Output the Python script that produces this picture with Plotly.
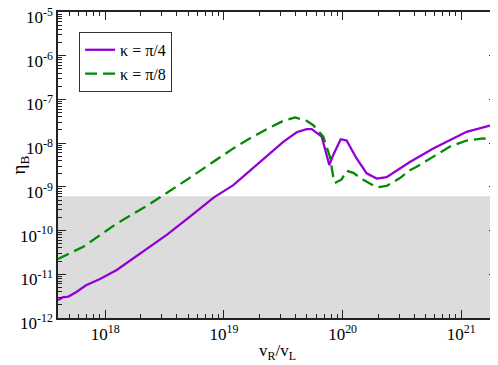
import numpy as np
import plotly.graph_objects as go

# values, as log10(v_R/v_L) and log10(eta_B)
log_x_pi4 = [17.602, 17.64, 17.69, 17.754, 17.838, 17.956, 18.097, 18.293, 18.518,
             18.714, 18.916, 19.079, 19.22, 19.36, 19.50, 19.613, 19.697, 19.74,
             19.824, 19.888, 19.921, 19.984, 20.034, 20.118, 20.203, 20.287, 20.371,
             20.483, 20.567, 20.764, 21.045, 21.24, 21.30]
log_eta_pi4 = [-11.59, -11.53, -11.51, -11.41, -11.25, -11.11, -10.90, -10.52, -10.10,
               -9.68, -9.24, -8.96, -8.63, -8.31, -7.97, -7.75, -7.68, -7.68,
               -7.85, -8.50, -8.27, -7.91, -7.94, -8.35, -8.69, -8.81, -8.78,
               -8.58, -8.43, -8.12, -7.74, -7.60, -7.59]

log_x_pi8 = [17.602, 17.815, 18.097, 18.377, 18.686, 18.80, 18.94, 19.079, 19.22,
             19.36, 19.50, 19.60, 19.697, 19.753, 19.837, 19.893, 19.921, 19.935,
             19.992, 20.034, 20.09, 20.174, 20.287, 20.371, 20.483, 20.567, 20.624,
             20.764, 20.905, 21.045, 21.185, 21.30]
log_eta_pi8 = [-10.65, -10.37, -9.84, -9.39, -8.84, -8.63, -8.39, -8.12, -7.89,
               -7.68, -7.49, -7.41, -7.49, -7.59, -7.85, -8.31, -8.77, -8.91,
               -8.83, -8.63, -8.68, -8.84, -9.01, -8.98, -8.80, -8.62, -8.54,
               -8.31, -8.08, -7.94, -7.89, -7.97]

eta_obs = 6.1e-10   # top of the grey band
eta_floor = 1e-12

x_ticks = [1e18, 1e19, 1e20, 1e21]
x_labels = ["10<sup>18</sup>", "10<sup>19</sup>", "10<sup>20</sup>", "10<sup>21</sup>"]
y_ticks = [1e-12, 1e-11, 1e-10, 1e-9, 1e-8, 1e-7, 1e-6, 1e-5]
y_labels = ["10<sup>-%d</sup>" % n for n in range(12, 4, -1)]

font = "'Liberation Serif', 'Times New Roman', serif"

fig = go.Figure()
fig.add_trace(go.Scatter(x=10 ** np.array(log_x_pi4), y=10 ** np.array(log_eta_pi4),
                         mode="lines", name="κ = π/4",
                         line=dict(color="rgb(148,0,211)", width=2.3)))
fig.add_trace(go.Scatter(x=10 ** np.array(log_x_pi8), y=10 ** np.array(log_eta_pi8),
                         mode="lines", name="κ = π/8",
                         line=dict(color="rgb(0,139,0)", width=2.3, dash="12px,6px")))

fig.add_shape(type="rect", xref="paper", yref="y", x0=0, x1=1,
              y0=eta_floor, y1=eta_obs, fillcolor="rgb(220,220,220)",
              line=dict(width=0), layer="below")

axis_style = dict(type="log", showline=True, linecolor="#222", linewidth=1.5,
                  mirror="allticks", ticks="inside", ticklen=8, tickwidth=1.2,
                  tickcolor="#222", showgrid=False, zeroline=False, automargin=False,
                  ticklabeloverflow="allow",
                  tickfont=dict(family=font, size=17, color="black"),
                  minor=dict(ticks="inside", ticklen=4, tickwidth=1, tickcolor="#222",
                             dtick="D1", showgrid=False))

fig.update_xaxes(axis_style, range=[17.602, 21.301], tickmode="array",
                 tickvals=x_ticks, ticktext=x_labels,
                 title=dict(text="v<sub>R</sub>/v<sub>L</sub>", standoff=1,
                            font=dict(family=font, size=17, color="black")))
fig.update_yaxes(axis_style, range=[-12.0001, -4.9999], tickmode="array",
                 tickvals=y_ticks, ticktext=y_labels, ticklabelshift=5,
                 title=dict(text="η<sub>B</sub>", standoff=4,
                            font=dict(family=font, size=19, color="black")))

# the page body keeps its 8px default margin, so the figure is 8px smaller
fig.update_layout(
    width=490, height=357,
    margin=dict(l=50, r=1, t=4, b=47),
    font=dict(family=font),
    plot_bgcolor="white", paper_bgcolor="white",
    showlegend=True,
    legend=dict(x=0.048, y=0.935, xanchor="left", yanchor="top",
                bgcolor="white", bordercolor="#333", borderwidth=1,
                font=dict(family=font, size=16, color="black"),
                tracegroupgap=0))

fig.write_html("out.html")
